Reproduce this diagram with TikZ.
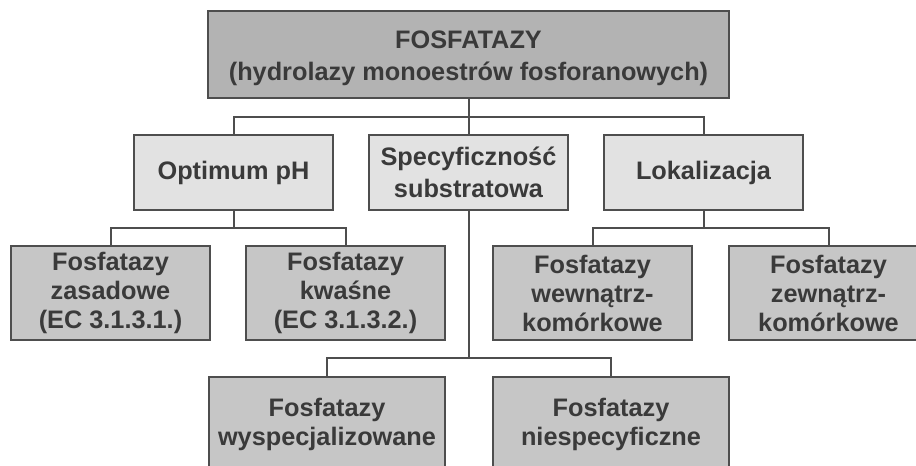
\documentclass[tikz,border=0pt]{standalone}
\usepackage{fontspec}
\setmainfont{Liberation Sans}
\definecolor{linec}{HTML}{4E4E4E}
\definecolor{txtc}{HTML}{3A3A3A}
\definecolor{fillA}{HTML}{B3B3B3}
\definecolor{fillB}{HTML}{E2E2E2}
\definecolor{fillC}{HTML}{C6C6C6}
\begin{document}
\begin{tikzpicture}[x=1pt,y=-1pt,
  box/.style={draw=linec, line width=2pt, inner sep=0pt, align=center, text=txtc,
    font=\fontsize{25.3}{29}\selectfont\bfseries},
  widebox/.style={box, font=\fontsize{25.3}{32}\selectfont\bfseries},
  topbox/.style={widebox, fill=fillA, minimum width=521pt, minimum height=87pt},
  midbox/.style={widebox, fill=fillB, minimum width=199pt, minimum height=75pt},
  lowbox/.style={box, fill=fillC, minimum width=199pt, minimum height=94pt},
  botbox/.style={box, fill=fillC, minimum width=236pt, minimum height=94pt},
  conn/.style={draw=linec, line width=2pt}]
\useasboundingbox (0,0) rectangle (916,466);
\clip (0,0) rectangle (916,466);
\fill[white] (0,0) rectangle (916,466);
% nodes
\node[topbox] (top) at (468.5,54.5) {\rule{0pt}{25pt}FOSFATAZY\\(hydrolazy monoestrów fosforanowych)};
\node[midbox] (opt) at (233.5,172.5) {Optimum pH};
\node[midbox] (spec) at (468.5,172.5) {Specyficzność\\substratowa};
\node[midbox] (lok) at (703.5,172.5) {Lokalizacja};
\node[lowbox] (zas) at (110.5,293) {Fosfatazy\\zasadowe\\(EC 3.1.3.1.)};
\node[lowbox] (kwa) at (345.5,293) {Fosfatazy\\kwaśne\\(EC 3.1.3.2.)};
\node[lowbox] (wew) at (592.5,293) {Fosfatazy\\wewnątrz-\\komórkowe};
\node[lowbox] (zew) at (828.5,293) {Fosfatazy\\zewnątrz-\\komórkowe};
\node[botbox] (wys) at (327,424) {Fosfatazy\\wyspecjalizowane};
\node[botbox] (nie) at (611,424) {Fosfatazy\\niespecyficzne};
% bus points
\coordinate (b1) at (468.5,117);
\coordinate (b2) at (233.5,228);
\coordinate (b3) at (703.5,228);
\coordinate (b4) at (468.5,358);
% connectors
\draw[conn] (top.south) -- (b1);
\draw[conn] (b1) -- (spec.north);
\draw[conn] (opt.north) |- (b1) -| (lok.north);
\draw[conn] (opt.south) -- (b2);
\draw[conn] (zas.north) |- (b2) -| (kwa.north);
\draw[conn] (lok.south) -- (b3);
\draw[conn] (wew.north) |- (b3) -| (zew.north);
\draw[conn] (spec.south) -- (b4);
\draw[conn] (wys.north) |- (b4) -| (nie.north);
\end{tikzpicture}
\end{document}
